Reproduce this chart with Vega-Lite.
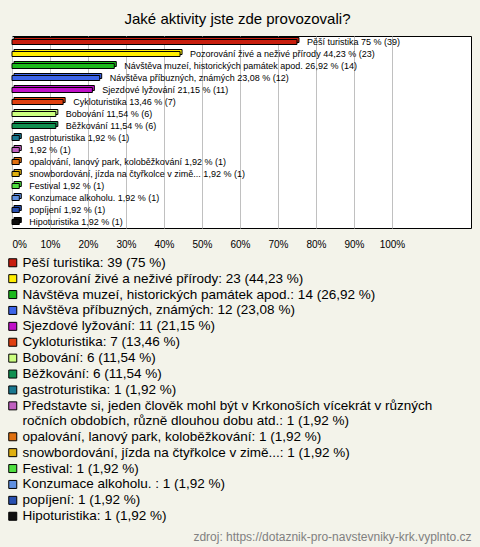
{
  "$schema": "https://vega.github.io/schema/vega-lite/v6.json",
  "background": "#f3f3ea",
  "padding": {"left": 11, "top": 11, "right": 10, "bottom": 4},
  "config": {
    "font": "Liberation Sans",
    "view": {"stroke": "#000", "strokeWidth": 1, "fill": "#ffffff"}
  },
  "title": {
    "text": "zdroj: https://dotaznik-pro-navstevniky-krk.vyplnto.cz",
    "orient": "bottom",
    "anchor": "end",
    "fontSize": 12,
    "fontWeight": "normal",
    "color": "#808080",
    "offset": 9
  },
  "vconcat": [
    {
      "width": 459,
      "height": 192,
      "title": {
        "text": "Jaké aktivity jste zde provozovali?",
        "fontSize": 15,
        "fontWeight": "normal",
        "color": "#000",
        "offset": 9,
        "dx": -4
      },
      "data": {
        "values": [
          {"order": 1, "item": "Pěší turistika", "pct": 75, "count": 39, "label": "Pěší turistika 75 % (39)", "legend": "Pěší turistika: 39 (75 %)"},
          {"order": 2, "item": "Pozorování živé a neživé přírody", "pct": 44.23, "count": 23, "label": "Pozorování živé a neživé přírody 44,23 % (23)", "legend": "Pozorování živé a neživé přírody: 23 (44,23 %)"},
          {"order": 3, "item": "Návštěva muzeí, historických památek apod.", "pct": 26.92, "count": 14, "label": "Návštěva muzeí, historických památek apod. 26,92 % (14)", "legend": "Návštěva muzeí, historických památek apod.: 14 (26,92 %)"},
          {"order": 4, "item": "Návštěva příbuzných, známých", "pct": 23.08, "count": 12, "label": "Návštěva příbuzných, známých 23,08 % (12)", "legend": "Návštěva příbuzných, známých: 12 (23,08 %)"},
          {"order": 5, "item": "Sjezdové lyžování", "pct": 21.15, "count": 11, "label": "Sjezdové lyžování 21,15 % (11)", "legend": "Sjezdové lyžování: 11 (21,15 %)"},
          {"order": 6, "item": "Cykloturistika", "pct": 13.46, "count": 7, "label": "Cykloturistika 13,46 % (7)", "legend": "Cykloturistika: 7 (13,46 %)"},
          {"order": 7, "item": "Bobování", "pct": 11.54, "count": 6, "label": "Bobování 11,54 % (6)", "legend": "Bobování: 6 (11,54 %)"},
          {"order": 8, "item": "Běžkování", "pct": 11.54, "count": 6, "label": "Běžkování 11,54 % (6)", "legend": "Běžkování: 6 (11,54 %)"},
          {"order": 9, "item": "gastroturistika", "pct": 1.92, "count": 1, "label": "gastroturistika 1,92 % (1)", "legend": "gastroturistika: 1 (1,92 %)"},
          {"order": 10, "item": "Představte si", "pct": 1.92, "count": 1, "label": "1,92 % (1)", "legend": "Představte si, jeden člověk mohl být v Krkonoších vícekrát v různých\nročních obdobích, různě dlouhou dobu atd.: 1 (1,92 %)"},
          {"order": 11, "item": "opalování, lanový park, koloběžkování", "pct": 1.92, "count": 1, "label": "opalování, lanový park, koloběžkování 1,92 % (1)", "legend": "opalování, lanový park, koloběžkování: 1 (1,92 %)"},
          {"order": 12, "item": "snowbordování, jízda na čtyřkolce v zimě...", "pct": 1.92, "count": 1, "label": "snowbordování, jízda na čtyřkolce v zimě... 1,92 % (1)", "legend": "snowbordování, jízda na čtyřkolce v zimě...: 1 (1,92 %)"},
          {"order": 13, "item": "Festival", "pct": 1.92, "count": 1, "label": "Festival 1,92 % (1)", "legend": "Festival: 1 (1,92 %)"},
          {"order": 14, "item": "Konzumace alkoholu.", "pct": 1.92, "count": 1, "label": "Konzumace alkoholu.  1,92 % (1)", "legend": "Konzumace alkoholu. : 1 (1,92 %)"},
          {"order": 15, "item": "popíjení", "pct": 1.92, "count": 1, "label": "popíjení 1,92 % (1)", "legend": "popíjení: 1 (1,92 %)"},
          {"order": 16, "item": "Hipoturistika", "pct": 1.92, "count": 1, "label": "Hipoturistika 1,92 % (1)", "legend": "Hipoturistika: 1 (1,92 %)"}
        ]
      },
      "encoding": {
        "y": {
          "field": "item",
          "type": "nominal",
          "sort": {"field": "order", "order": "ascending"},
          "axis": null,
          "scale": {"paddingInner": 0, "paddingOuter": 0}
        },
        "x": {
          "field": "pct",
          "type": "quantitative",
          "scale": {"domain": [0, 120.8], "nice": false},
          "axis": {
            "title": null,
            "values": [0, 10, 20, 30, 40, 50, 60, 70, 80, 90, 100],
            "labelExpr": "datum.value + '%'",
            "grid": true,
            "gridColor": "#c0c0c0",
            "domain": false,
            "ticks": false,
            "labelFontSize": 10,
            "labelColor": "#000",
            "labelPadding": 11,
            "labelFlush": true
          }
        },
        "color": {
          "field": "legend",
          "type": "nominal",
          "sort": {"field": "order", "order": "ascending"},
          "scale": {"range": ["#c81e0e", "#ffee00", "#1cb81c", "#3c64e8", "#c010c8", "#e04010", "#ccff80", "#109050", "#1a7890", "#c060c0", "#e07010", "#e0b010", "#50e040", "#6090e0", "#2850b0", "#101010"]},
          "legend": {
            "title": null,
            "orient": "bottom",
            "direction": "vertical",
            "columns": 1,
            "symbolType": "square",
            "symbolSize": 64,
            "symbolStrokeColor": "#000",
            "symbolStrokeWidth": 1,
            "symbolOpacity": 1,
            "symbolOffset": -6,
            "labelFontSize": 13.5,
            "labelColor": "#000",
            "labelLimit": 470,
            "labelOffset": 3,
            "labelExpr": "split(datum.label, '\\n')",
            "rowPadding": 0.9,
            "offset": 6,
            "padding": 0
          }
        }
      },
      "layer": [
        {
          "mark": {"type": "bar", "size": 5, "xOffset": 2, "x2Offset": 2, "yOffset": -2, "stroke": "#000", "strokeWidth": 1}
        },
        {
          "mark": {"type": "bar", "size": 5, "stroke": "#000", "strokeWidth": 1}
        },
        {
          "mark": {"type": "text", "align": "left", "baseline": "middle", "dx": 10, "fontSize": 9},
          "encoding": {"text": {"field": "label"}, "color": {"value": "#000"}}
        }
      ]
    }
  ]
}
